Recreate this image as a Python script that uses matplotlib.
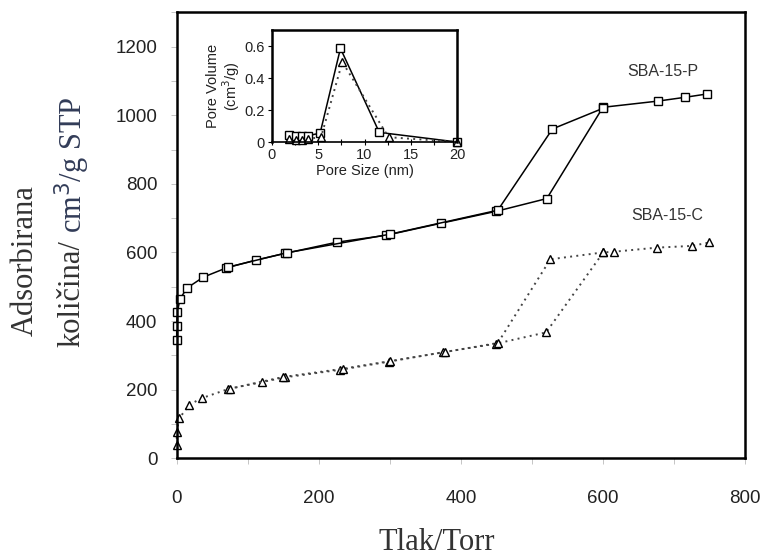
import matplotlib.pyplot as plt

# SBA-15-P isotherm (squares, solid)
ads_p_x = [0, 0, 1, 4.6, 15, 37.5, 70, 112, 152, 226, 295, 372, 450, 521, 600, 677, 715, 747]
ads_p_y = [346, 385, 426, 465, 497, 528, 555, 578, 597, 630, 650, 685, 720, 757, 1023, 1041, 1052, 1062]
des_p_x = [600, 529, 452, 300, 155, 72]
des_p_y = [1020, 960, 723, 653, 599, 557]

# SBA-15-C isotherm (triangles, dotted)
ads_c_x = [0, 0, 3.7, 17.7, 35, 72.7, 119.6, 152.5, 230, 299, 375, 449.5, 520, 600.5, 615, 676, 725, 750]
ads_c_y = [39, 76, 117, 156, 175, 202, 222, 236, 258, 282, 309, 334, 367, 600, 602, 614, 619, 629]
des_c_x = [600, 526, 452, 378, 300, 234, 150, 75]
des_c_y = [600, 580, 336, 310, 283, 261, 237, 203]

# inset: pore size distribution
pore_p_x = [1.8, 2.6, 3.2, 3.9, 5.2, 7.4, 11.6, 20]
pore_p_y = [0.045, 0.035, 0.035, 0.04, 0.055, 0.585, 0.06, 0.0]
pore_c_x = [1.8, 2.6, 3.2, 3.9, 5.3, 7.6, 12.6, 20]
pore_c_y = [0.02, 0.01, 0.01, 0.02, 0.03, 0.50, 0.03, 0.0]

plt.rcParams['font.family'] = ['Liberation Sans', 'DejaVu Sans']
txt = '#222222'
serif = ['Liberation Serif', 'DejaVu Serif']

fig = plt.figure(figsize=(7.63, 5.58), dpi=100)
ax = fig.add_axes([0.2316, 0.1787, 0.9764 - 0.2316, 0.978 - 0.1787])

sq = dict(marker='s', ms=5.8, mfc='white', mec='black', mew=1.0, color='black', clip_on=False)
tri = dict(marker='^', ms=6, mfc='white', mec='black', mew=1.0, color='#444444', clip_on=False)

ax.plot(ads_p_x, ads_p_y, lw=1.1, **sq)
ax.plot(des_p_x, des_p_y, lw=1.1, **sq)
ax.plot(ads_c_x, ads_c_y, lw=1.4, ls=(0, (1, 2.2)), **tri)
ax.plot(des_c_x, des_c_y, lw=1.4, ls=(0, (1, 2.2)), **tri)

ax.set_xlim(0, 800)
ax.set_ylim(0, 1300)
ax.set_xticks(range(0, 801, 100))
ax.set_xticklabels(['0', '', '200', '', '400', '', '600', '', '800'])
ax.set_yticks(range(0, 1301, 100))
ax.set_yticklabels([str(v) if v % 200 == 0 else '' for v in range(0, 1301, 100)])
ax.tick_params(axis='both', direction='out', length=4, width=0.6, color='#bbbbbb',
               labelsize=13.5, labelcolor=txt)
ax.tick_params(axis='x', pad=19)
ax.tick_params(axis='y', pad=10)
for s in ax.spines.values():
    s.set_linewidth(1.8)

ax.text(684, 1127, 'SBA-15-P', ha='center', va='center', fontsize=11.5, color='#333333')
ax.text(690, 709, 'SBA-15-C', ha='center', va='center', fontsize=11.5, color='#333333')

fig.text(437 / 763, 1 - 543 / 558, 'Tlak/Torr', ha='center', va='center',
         fontsize=22, family=serif, color='#333333')
fig.text(25 / 763, 1 - 261 / 558, 'Adsorbirana', rotation=90, ha='center', va='center',
         fontsize=22, family=serif, color='#333333')
y0 = 1 - 347 / 558
t1 = fig.text(72 / 763, y0, 'količina/', rotation=90, ha='center', va='bottom',
              fontsize=22, family=serif, color='#333333')
fig.canvas.draw()
bb = t1.get_window_extent().transformed(fig.transFigure.inverted())
fig.text(72 / 763, bb.y1 + 0.012, 'cm$^3$/g STP', rotation=90, ha='center', va='bottom',
         fontsize=22, family=serif, color='#323c58')

# inset
ins = fig.add_axes([272 / 763, 1 - 142 / 558, (457 - 272) / 763, (142 - 30) / 558])
ins.plot(pore_p_x, pore_p_y, lw=1.1, **sq)
ins.plot(pore_c_x, pore_c_y, lw=1.4, ls=(0, (1, 2.2)), **tri)
ins.set_xlim(0, 20)
ins.set_ylim(0, 0.7)
ins.set_xticks([0, 2.5, 5, 7.5, 10, 12.5, 15, 17.5, 20])
ins.set_xticklabels(['0', '', '5', '', '10', '', '15', '', '20'])
ins.set_yticks([0, 0.2, 0.4, 0.6])
ins.set_yticklabels(['0', '0.2', '0.4', '0.6'])
ins.tick_params(axis='x', direction='inout', length=5, width=0.8, labelsize=10.5, labelcolor=txt, pad=2)
ins.tick_params(axis='y', direction='out', length=3, width=0.8, labelsize=10.5, labelcolor=txt, pad=2)
ins.set_xlabel('Pore Size (nm)', fontsize=10.5, color=txt, labelpad=1)
ins.set_ylabel('Pore Volume\n(cm$^3$/g)', fontsize=10.5, color=txt, labelpad=2, linespacing=1.0)
for s in ins.spines.values():
    s.set_linewidth(1.8)
ins.spines['bottom'].set_linewidth(1.2)

fig.savefig('out.png', dpi=100)
